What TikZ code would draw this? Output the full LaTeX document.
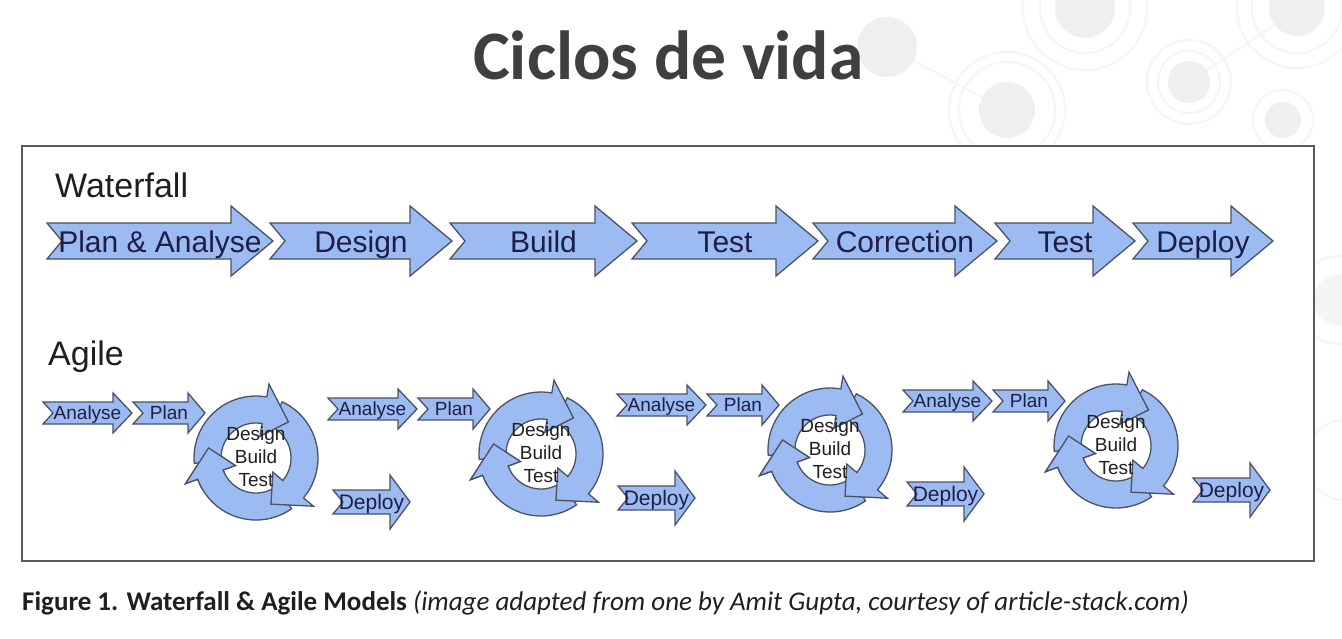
\documentclass[tikz,border=0pt]{standalone}
\usepackage{fontspec}
\setmainfont{Liberation Sans}
\newfontfamily\calib{Carlito}
\definecolor{afill}{HTML}{9CBBF2}
\definecolor{aline}{HTML}{4A5263}
\definecolor{atext}{HTML}{1E1E44}
\definecolor{titlegray}{HTML}{3F3F3F}
\definecolor{decofill}{HTML}{EFEFF1}
\definecolor{decoring}{HTML}{F5F5F6}
\definecolor{framegray}{HTML}{5A5A5A}

\newcommand\wfarrow[4]{%
  \filldraw[arrowbox] (#2,223) -- (#3-42,223) -- (#3-42,206) -- (#3,241) -- (#3-42,276) -- (#3-42,259) -- (#2,259) -- (#2+15,241) -- cycle;
  \node[wftext] (#1) at ({(#2+#3)/2},252) {#4};
}
% name, x0, xb, xt, yc, bh, hh, fontsize, text
\newcommand\agarrow[9]{%
  \filldraw[arrowbox] (#2,#5-#6) -- (#3,#5-#6) -- (#3,#5-#7) -- (#4,#5) -- (#3,#5+#7) -- (#3,#5+#6) -- (#2,#5+#6) -- (#2+10,#5) -- cycle;
  \node[agtext, font=\fontsize{#8}{#8}\selectfont] (#1) at ({(#2+#4)/2},{#5+0.36*#8}) {#9};
}
% tail, base, tip  (screen angles, clockwise)
\newcommand\cycarrow[3]{%
  \filldraw[arrowbox] plot[domain=#1:#2,samples=30] (\x:62) -- (#2:75) -- (#3:48.5) -- (#2:22) -- plot[domain=#2:#1,samples=30] (\x:35) -- cycle;
}
\newcommand\cychead[3]{%
  \fill[afill] plot[domain=#1:#2,samples=8] (\x:62) -- (#2:75) -- (#3:48.5) -- (#2:22) -- plot[domain=#2:#1,samples=8] (\x:35) -- cycle;
  \draw[aline, line width=1.3pt, line join=miter] plot[domain=#1:#2,samples=8] (\x:62) -- (#2:75) -- (#3:48.5) -- (#2:22) -- plot[domain=#2:#1,samples=8] (\x:35);
}

\begin{document}
\begin{tikzpicture}[x=1pt,y=-1pt,
  arrowbox/.style={fill=afill, draw=aline, line width=1.3pt, line join=miter},
  wftext/.style={text=atext, font=\fontsize{30}{36}\selectfont, anchor=base, inner sep=0},
  agtext/.style={text=atext, anchor=base, inner sep=0},
  cyctext/.style={text=black!88, font=\fontsize{19}{23}\selectfont, align=center, inner sep=0},
  heading/.style={anchor=base west, inner sep=0, text=black!88, font=\fontsize{34}{40}\selectfont},
  deco/.style={fill=decofill},
  decor/.style={draw=decoring, line width=2pt}]
\useasboundingbox (0,0) rectangle (1342,638);
\fill[white] (0,0) rectangle (1342,638);

% background decoration
\draw[decor] (887,47) -- (1007,110);
\draw[decor] (1189,82) -- (1297,10);
\fill[deco] (887,47) circle (30);
\draw[decor] (1007,110) circle (48); \draw[decor] (1007,110) circle (58);
\fill[deco] (1007,110) circle (28);
\draw[decor] (1085,8) circle (45); \draw[decor] (1085,8) circle (62);
\fill[deco] (1085,8) circle (30);
\draw[decor] (1189,82) circle (31); \draw[decor] (1189,82) circle (42);
\fill[deco] (1189,82) circle (21);
\draw[decor] (1297,8) circle (45); \draw[decor] (1297,8) circle (60);
\fill[deco] (1297,8) circle (28);
\draw[decor] (1283,120) circle (30);
\fill[deco] (1283,120) circle (18);
\fill[decoring] (1340,300) circle (26);
\draw[decor] (1340,300) circle (44);
\draw[decor] (1345,460) circle (40);

% title
\node[anchor=base west, inner sep=0, text=titlegray, font=\calib\bfseries\fontsize{69.5}{80}\selectfont] (title) at (473,79) {Ciclos de vida};

% frame
\filldraw[fill=white, draw=framegray, line width=1.8pt] (22,146) rectangle (1314,561);

\node[heading] (wfhead) at (55,197) {Waterfall};
\node[heading] (aghead) at (48,365) {Agile};

% waterfall
\wfarrow{wf1}{47}{273}{Plan \& Analyse}
\wfarrow{wf2}{270}{452}{Design}
\wfarrow{wf3}{450}{637}{Build}
\wfarrow{wf4}{632}{818}{Test}
\wfarrow{wf5}{813}{997}{Correction}
\wfarrow{wf6}{995}{1135}{Test}
\wfarrow{wf7}{1133}{1273}{Deploy}

% agile
\foreach \dx/\dy/\g in {0/0/1, 285/-4/2, 574/-8/3, 860/-12/4}{
  \pgfmathsetmacro\xa{43+\dx}\pgfmathsetmacro\xab{113+\dx}\pgfmathsetmacro\xat{132+\dx}
  \pgfmathsetmacro\xp{133+\dx}\pgfmathsetmacro\xpb{188+\dx}\pgfmathsetmacro\xpt{205+\dx}
  \pgfmathsetmacro\xd{333+\dx}\pgfmathsetmacro\xdb{390+\dx}\pgfmathsetmacro\xdt{410+\dx}
  \pgfmathsetmacro\ya{413+\dy}\pgfmathsetmacro\yd{502+\dy}
  \pgfmathsetmacro\cx{256+\dx}\pgfmathsetmacro\cy{458+\dy}
  \agarrow{an\g}{\xa}{\xab}{\xat}{\ya}{11}{20}{19}{Analyse}
  \agarrow{pl\g}{\xp}{\xpb}{\xpt}{\ya}{11}{20}{19}{Plan}
  \begin{scope}[shift={(\cx,\cy)}]
    \cycarrow{55}{160}{192}
    \cycarrow{295}{400}{432}
    \cycarrow{175}{280}{312}
    \cychead{150}{160}{192}
  \end{scope}
  \node[cyctext] (cy\g) at (\cx,{\cy-1}) {Design\\Build\\Test};
  \agarrow{de\g}{\xd}{\xdb}{\xdt}{\yd}{12}{27}{21}{Deploy}
}

% caption
\node[anchor=base west, inner sep=0, text=black!88, font=\calib\fontsize{27}{32}\selectfont] (caption) at (22,610)
  {\textbf{Figure 1. Waterfall \& Agile Models} \textit{(image adapted from one by Amit Gupta, courtesy of article-stack.com)}};
\end{tikzpicture}
\end{document}
